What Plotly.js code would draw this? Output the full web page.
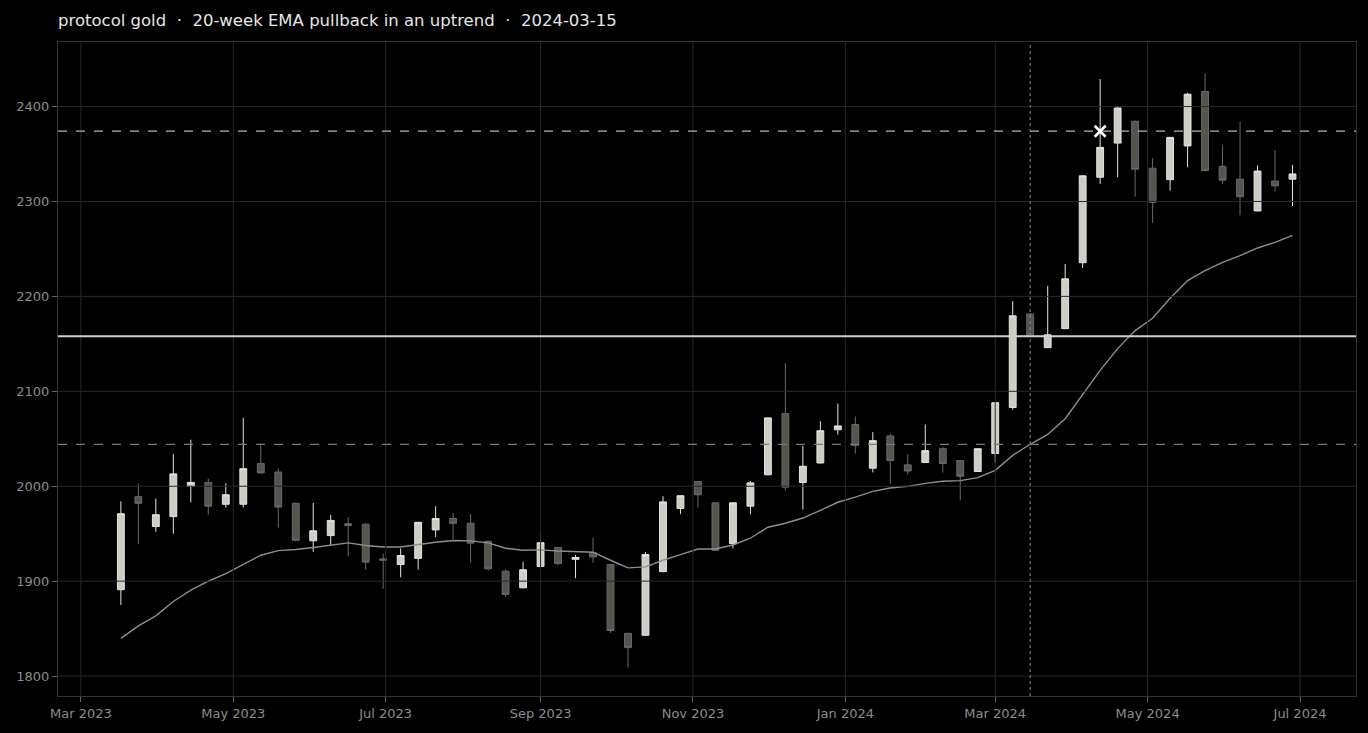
<!DOCTYPE html>
<html>
<head>
<meta charset="utf-8">
<script src="https://cdn.plot.ly/plotly-3.0.1.min.js"></script>
<style>html,body{margin:0;padding:0;background:#000;}#chart{width:1368px;height:733px;}</style>
</head>
<body>
<div id="chart"></div>
<script>
// Weekly bars (week ending Friday)
const dates = [
 '2023-03-17','2023-03-24','2023-03-31','2023-04-07','2023-04-14','2023-04-21','2023-04-28',
 '2023-05-05','2023-05-12','2023-05-19','2023-05-26','2023-06-02','2023-06-09','2023-06-16',
 '2023-06-23','2023-06-30','2023-07-07','2023-07-14','2023-07-21','2023-07-28','2023-08-04',
 '2023-08-11','2023-08-18','2023-08-25','2023-09-01','2023-09-08','2023-09-15','2023-09-22',
 '2023-09-29','2023-10-06','2023-10-13','2023-10-20','2023-10-27','2023-11-03','2023-11-10',
 '2023-11-17','2023-11-24','2023-12-01','2023-12-08','2023-12-15','2023-12-22','2023-12-29',
 '2024-01-05','2024-01-12','2024-01-19','2024-01-26','2024-02-02','2024-02-09','2024-02-16',
 '2024-02-23','2024-03-01','2024-03-08','2024-03-15','2024-03-22','2024-03-29','2024-04-05',
 '2024-04-12','2024-04-19','2024-04-26','2024-05-03','2024-05-10','2024-05-17','2024-05-24',
 '2024-05-31','2024-06-07','2024-06-14','2024-06-21','2024-06-28'
];
const openV = [
 1891,1989,1957.5,1968,2000,2004,1981,1981,2024,2015,1982,1942.5,1948,1960.5,1960,1923.5,1917.5,
 1924,1954,1966,1961,1942,1910.5,1893,1915.5,1935.5,1923,1930,1917.5,1845,1843,1910,1976.5,2005,
 1982.5,1939.5,1979,2012,2076.5,2004,2024.5,2059.5,2065,2019,2053,2022.5,2025,2039.5,2027,2015.5,
 2034.5,2083,2181.5,2146,2166,2235.5,2325.5,2361.5,2384.5,2335,2323,2358.5,2416,2337,2323.5,2290,
 2321.5,2323.5
];
const highV = [
 1984,2003,1987,2034,2049,2008,2003,2072,2045,2018.5,1983,1982.5,1970,1967.5,1961,1929,1934.5,
 1962.5,1979,1972,1971,1942.5,1912.5,1920.5,1950,1936,1927.5,1946,1918,1845.5,1930.5,1989.5,1990.5,
 2005.5,1983,1983,2005.5,2072.5,2129.5,2042.5,2068.5,2087,2073.5,2057,2055.5,2033.5,2065,2041,2027.5,
 2040,2088.5,2195,2182.5,2211,2234,2328,2429,2399.5,2385,2345.5,2368,2414.5,2434.5,2359.5,2384,2338,
 2354,2338.5
];
const lowV = [
 1875,1939,1952,1950,1983,1970,1977.5,1977.5,2013.5,1956.5,1942,1931,1938,1926,1912,1892,1904,
 1912,1946.5,1944,1919.5,1911,1883.5,1892.5,1915,1916.5,1903,1919.5,1845.5,1809,1842.5,1909.5,1970.5,
 1977.5,1932,1934.5,1970.5,2011.5,1995.5,1975.5,2024,2054.5,2034.5,2014.5,2002.5,2012,2024.5,2014.5,1985,
 2015,2025,2080.5,2157,2145.5,2165.5,2230,2318.5,2325.5,2305,2277.5,2311.5,2336,2332,2318.5,2285.5,2289.5,
 2310.5,2295.5
];
const closeV = [
 1971,1982,1970,2013,2004,1979,1991,2018.5,2014,1978,1943,1953,1964,1958.5,1920,1922,1927,
 1962,1966,1961,1940,1913,1886,1912,1940.5,1918.5,1925,1925.5,1848,1830,1928,1983.5,1990,
 1991,1932.5,1982.5,2003.5,2072,1999,2021,2058.5,2063.5,2043,2048,2027,2016,2037.5,2024,2010.5,
 2039.5,2088,2179.5,2158,2159.5,2218.5,2327,2357,2398.5,2334,2299,2367.5,2413,2332.5,2322.5,2305,2332,
 2316.5,2329
];
const ema20 = [
 1839.7,1852.9,1863.4,1878.6,1890.5,1899.9,1908,1917.5,1927.3,1932.2,1933.3,1935.4,1937.8,1940.3,
 1937.5,1936,1936,1938.6,1941,1942.8,1942.4,1940.3,1934.7,1932.6,1932.9,1931.8,1931.2,1930.5,1922,
 1914,1915,1922,1928,1933.9,1933.9,1938.1,1945.2,1956.8,1961,1966.5,1974.6,1983.1,1988.6,1994.6,
 1998.1,1999.9,2003,2005.2,2005.9,2009,2016.7,2032.5,2044.2,2054.6,2071.1,2096,2122,2145,2164,2177,
 2198,2216.6,2227.1,2235.9,2242.9,2251,2256.9,2264.3
];
// Signal levels
const signalDate = '2024-03-15';
const signalClose = 2158;
const emaAtSignal = 2044;
const targetLevel = 2374;
const targetHitDate = '2024-04-12';
// Axis ticks
const yTicks = [1800,1900,2000,2100,2200,2300,2400];
const xTicks = ['2023-03-01','2023-05-01','2023-07-01','2023-09-01','2023-11-01','2024-01-01','2024-03-01','2024-05-01','2024-07-01'];
const xTickText = ['Mar 2023','May 2023','Jul 2023','Sep 2023','Nov 2023','Jan 2024','Mar 2024','May 2024','Jul 2024'];

const gridColor = '#292929';
const shapes = [];
yTicks.forEach(v => shapes.push({type:'line', xref:'paper', x0:0, x1:1, yref:'y', y0:v, y1:v, layer:'above', line:{color:gridColor, width:1}}));
xTicks.forEach(v => shapes.push({type:'line', xref:'x', x0:v, x1:v, yref:'paper', y0:0, y1:1, layer:'above', line:{color:gridColor, width:1}}));
shapes.push({type:'line', xref:'paper', x0:0, x1:1, yref:'y', y0:emaAtSignal, y1:emaAtSignal, layer:'above', line:{color:'#7a7a7a', width:1.2, dash:'dash'}});
shapes.push({type:'line', xref:'paper', x0:0, x1:1, yref:'y', y0:targetLevel, y1:targetLevel, layer:'above', line:{color:'#b4b4b4', width:1.2, dash:'dash'}});
shapes.push({type:'line', xref:'paper', x0:0, x1:1, yref:'y', y0:signalClose, y1:signalClose, layer:'above', line:{color:'#d0d0cc', width:1.8}});
shapes.push({type:'line', xref:'x', x0:signalDate, x1:signalDate, yref:'paper', y0:0, y1:1, layer:'above', line:{color:'#8a8a8a', width:1, dash:'dot'}});

const traces = [
 {
  type:'candlestick', x:dates, open:openV, high:highV, low:lowV, close:closeV,
  increasing:{line:{color:'#e4e4de', width:1}, fillcolor:'#cdcdc6'},
  decreasing:{line:{color:'#6a6a64', width:1}, fillcolor:'#55554f'},
  whiskerwidth:0, showlegend:false, hoverinfo:'skip'
 },
 {
  type:'scatter', mode:'lines', x:dates, y:ema20,
  line:{color:'#8e8e8e', width:1.4}, showlegend:false, hoverinfo:'skip'
 },
 {
  type:'scatter', mode:'markers', x:[targetHitDate], y:[targetLevel],
  marker:{symbol:'x-thin', size:11, line:{color:'#ffffff', width:2.6}, color:'#ffffff'},
  showlegend:false, hoverinfo:'skip'
 }
];

const tickFont = {family:'DejaVu Sans, sans-serif', size:13, color:'#8c8c8c'};
const layout = {
 width:1368, height:733,
 paper_bgcolor:'#000000', plot_bgcolor:'#000000',
 margin:{l:58, r:12, t:42, b:37},
 title:{text:'protocol gold  ·  20-week EMA pullback in an uptrend  ·  2024-03-15',
        x:58/1368, xref:'container', xanchor:'left', y:1-20/733, yref:'container', yanchor:'middle',
        font:{family:'DejaVu Sans, sans-serif', size:16.5, color:'#e6e6e6'}},
 boxgap:0.44,
 xaxis:{type:'date', range:['2023-02-19 20:00','2024-07-23 10:00'],
        tickmode:'array', tickvals:xTicks, ticktext:xTickText,
        showgrid:false, zeroline:false, showline:true, mirror:true, linecolor:'#333333', linewidth:1,
        ticks:'outside', ticklen:5, tickcolor:'#666666', tickfont:tickFont,
        rangeslider:{visible:false}, fixedrange:true},
 yaxis:{range:[1779,2468], tickmode:'array', tickvals:yTicks,
        showgrid:false, zeroline:false, showline:true, mirror:true, linecolor:'#333333', linewidth:1,
        ticks:'outside', ticklen:5, tickcolor:'#666666', tickfont:tickFont, fixedrange:true},
 shapes:shapes,
 showlegend:false
};
Plotly.newPlot('chart', traces, layout, {displayModeBar:false, staticPlot:true});
</script>
</body>
</html>
